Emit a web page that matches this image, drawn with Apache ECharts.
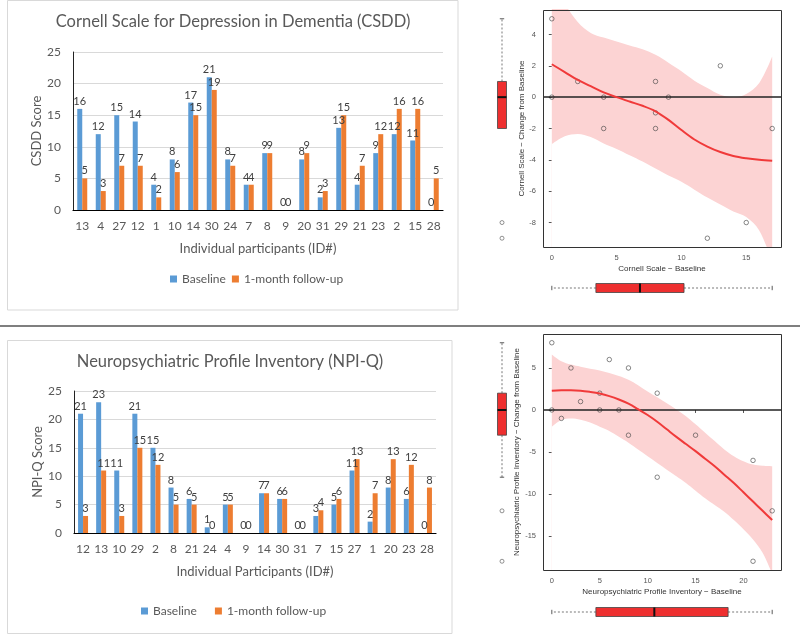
<!DOCTYPE html>
<html>
<head>
<meta charset="utf-8">
<title>CSDD and NPI-Q</title>
<script src="https://cdn.jsdelivr.net/npm/echarts@6/dist/echarts.min.js"></script>
<style>
html, body { margin: 0; padding: 0; background: #fff; }
#chart { width: 800px; height: 634px; }
</style>
</head>
<body>
<div id="chart"></div>
<script>
// --- CSDD bars ---
const csddIds = ['13','4','27','12','1','10','14','30','24','7','8','9','20','31','29','21','23','2','15','28'];
const csddBaseline = [16,12,15,14,4,8,17,21,8,4,9,0,8,2,13,4,9,12,11,0];
const csddFollowUp = [5,3,7,7,2,6,15,19,7,4,9,0,9,3,15,7,12,16,16,5];

// --- NPI-Q bars ---
const npiIds = ['12','13','10','29','2','8','21','24','4','9','14','30','31','7','15','27','1','20','23','28'];
const npiBaseline = [21,23,11,21,15,8,6,1,5,0,7,6,0,3,5,11,2,8,6,0];
const npiFollowUp = [3,11,3,15,12,5,5,0,5,0,7,6,0,4,6,13,7,13,12,8];

// --- Cornell scatter: baseline vs change ---
const csddPoints = [[0,5],[0,0],[2,1],[4,0],[4,-2],[8,1],[8,-1],[8,-2],[9,0],[12,-9],[13,2],[15,-8],[17,-2]];
const csddFitX = [0,1,2,3,4,5,6,7,8,9,10,11,12,13,14,15,16,17];
const csddFit = [2.1,1.6,1.1,0.7,0.3,0,-0.28,-0.55,-0.9,-1.45,-2.1,-2.7,-3.15,-3.5,-3.75,-3.9,-4.0,-4.06];
const csddUpper = [8.0,6.0,4.8,4.1,3.8,3.55,3.3,3.05,2.7,2.2,1.65,1.05,0.58,0.15,0.0,0.2,0.9,2.6];
const csddLower = [-3.0,-2.5,-2.35,-2.55,-2.95,-3.3,-3.7,-4.1,-4.55,-5.0,-5.4,-5.9,-6.4,-6.85,-7.3,-7.65,-8.5,-10.5];
const csddChangeBox = [-2,-2,0,1,5];      // whisker low, Q1, median, Q3, whisker high
const csddChangeOut = [-8,-9];
const csddBaseBox = [0,3.4,6.8,10.2,17];
const csddXTicks = [0,5,10,15];
const csddYTicks = [-8,-6,-4,-2,0,2,4];

// --- NPI-Q scatter: baseline vs change ---
const npiPoints = [[0,8],[0,0],[1,-1],[2,5],[3,1],[5,2],[5,0],[6,6],[7,0],[8,5],[8,-3],[11,2],[11,-8],[15,-3],[21,-6],[21,-18],[23,-12]];
const npiFitX = [0,1,2,3,4,5,6,7,8,9,10,11,12,13,14,15,16,17,18,19,20,21,22,23];
const npiFit = [2.3,2.35,2.35,2.3,2.15,1.95,1.65,1.25,0.75,0.1,-0.6,-1.4,-2.3,-3.2,-4.05,-4.9,-5.8,-6.7,-7.7,-8.7,-9.8,-10.9,-12.0,-13.1];
const npiUpper = [6.6,5.8,5.4,5.15,4.9,4.7,4.4,4.05,3.6,2.95,2.2,1.5,0.8,0.05,-0.75,-1.7,-2.7,-3.7,-4.7,-5.5,-6.1,-6.5,-6.65,-6.7];
const npiLower = [-2.0,-1.2,-1.0,-1.15,-1.5,-2.0,-2.5,-3.2,-3.9,-4.7,-5.5,-6.3,-7.1,-7.9,-8.7,-9.6,-10.5,-11.3,-12.1,-13.1,-14.2,-15.4,-17.0,-19.5];
const npiChangeBox = [-8,-3,0,2,8];
const npiChangeOut = [-12,-18];
const npiBaseBox = [0,4.6,10.7,18.4,23];
const npiXTicks = [0,5,10,15,20];
const npiYTicks = [-15,-10,-5,0,5];

const BLUE = '#5B9BD5', ORANGE = '#ED7D31';
const XL_FONT = 'Lato, "Open Sans", sans-serif';
const R_FONT = '"Liberation Sans", Arial, sans-serif';

const chart = echarts.init(document.getElementById('chart'), null, {renderer: 'canvas'});

function barAxisX(idx, cats, name) {
    return {
        type: 'category', gridIndex: idx, data: cats,
        axisLine: {lineStyle: {color: '#000', width: 1.2}},
        axisTick: {show: false},
        axisLabel: {color: '#595959', fontSize: 12, fontFamily: XL_FONT, margin: 10, interval: 0},
        name: name, nameLocation: 'middle', nameGap: 32,
        nameTextStyle: {color: '#595959', fontSize: 13, fontFamily: XL_FONT}
    };
}
function barAxisY(idx, name) {
    return {
        type: 'value', gridIndex: idx, min: 0, max: 25, interval: 5,
        axisLine: {show: true, lineStyle: {color: '#222'}},
        axisTick: {show: false},
        splitLine: {lineStyle: {color: '#d9d9d9'}},
        axisLabel: {color: '#595959', fontSize: 12, fontFamily: XL_FONT, margin: 12},
        name: name, nameLocation: 'middle', nameGap: 28,
        nameTextStyle: {color: '#595959', fontSize: 13, fontFamily: XL_FONT}
    };
}
function barSeries(name, axis, values, color) {
    return {
        type: 'bar', name: name, xAxisIndex: axis, yAxisIndex: axis, data: values,
        barWidth: 5, barGap: '0%', itemStyle: {color: color},
        label: {show: true, position: 'top', distance: 2, color: '#404040', fontSize: 11, fontFamily: XL_FONT}
    };
}

// R style scatter axes
function rAxisX(idx, min, max, ticks, name) {
    return {
        type: 'value', gridIndex: idx, min: min, max: max,
        axisLine: {show: false}, splitLine: {show: false},
        axisTick: {show: true, length: 3, customValues: ticks, lineStyle: {color: '#555'}},
        axisLabel: {customValues: ticks, color: '#555', fontSize: 7.5, fontFamily: R_FONT, margin: 7},
        name: name, nameLocation: 'middle', nameGap: 18,
        nameTextStyle: {color: '#333', fontSize: 8, fontFamily: R_FONT}
    };
}
function rAxisY(idx, min, max, ticks, name) {
    return {
        type: 'value', gridIndex: idx, min: min, max: max,
        axisLine: {show: false}, splitLine: {show: false},
        axisTick: {show: true, length: 3, customValues: ticks, lineStyle: {color: '#555'}},
        axisLabel: {customValues: ticks, color: '#555', fontSize: 7.5, fontFamily: R_FONT, margin: 7},
        name: name, nameLocation: 'middle', nameGap: 17,
        nameTextStyle: {color: '#333', fontSize: 8, fontFamily: R_FONT}
    };
}
function hiddenAxis(idx, min, max) {
    return {type: 'value', gridIndex: idx, min: min, max: max, show: false};
}

// boxplot drawn R-like: dashed whiskers, staples, red box, thick median
function boxRender(horizontal) {
    return function (params, api) {
        const pos = api.value(0);
        const s = [api.value(1), api.value(2), api.value(3), api.value(4), api.value(5)];
        const pt = v => horizontal ? api.coord([v, pos]) : api.coord([pos, v]);
        const half = 4.5, cap = 2.2;
        const p = s.map(pt);
        const seg = (a, b, style) => ({
            type: 'line', shape: {x1: a[0], y1: a[1], x2: b[0], y2: b[1]}, style: style
        });
        const across = (c, w, style) => ({
            type: 'line',
            shape: horizontal
                ? {x1: c[0], y1: c[1] - w, x2: c[0], y2: c[1] + w}
                : {x1: c[0] - w, y1: c[1], x2: c[0] + w, y2: c[1]},
            style: style
        });
        const dashed = {stroke: '#555', lineWidth: 0.8, lineDash: [2, 2]};
        const solid = {stroke: '#333', lineWidth: 0.8};
        const children = [];
        if (s[4] > s[3]) { children.push(seg(p[3], p[4], dashed), across(p[4], cap, solid)); }
        if (s[0] < s[1]) { children.push(seg(p[1], p[0], dashed), across(p[0], cap, solid)); }
        const rect = horizontal
            ? {x: p[1][0], y: p[1][1] - half, width: p[3][0] - p[1][0], height: half * 2}
            : {x: p[1][0] - half, y: p[3][1], width: half * 2, height: p[1][1] - p[3][1]};
        children.push({type: 'rect', shape: rect, style: {fill: '#ee2f2f', stroke: '#444', lineWidth: 0.8}});
        children.push(across(p[2], half, {stroke: '#111', lineWidth: 2}));
        return {type: 'group', children: children};
    };
}

// confidence band: pink area down from the upper curve, then white area down from the lower curve
function scatterPanel(ax, points, fitX, fit, upper, lower) {
    return [
        {type: 'line', xAxisIndex: ax, yAxisIndex: ax, data: fitX.map((x, i) => [x, upper[i]]),
            symbol: 'none', smooth: 0.35, lineStyle: {opacity: 0},
            areaStyle: {color: '#fcd3d3', opacity: 1, origin: 'start'}, silent: true, z: 1},
        {type: 'line', xAxisIndex: ax, yAxisIndex: ax, data: fitX.map((x, i) => [x, lower[i]]),
            symbol: 'none', smooth: 0.35, lineStyle: {opacity: 0},
            areaStyle: {color: '#ffffff', opacity: 1, origin: 'start'}, silent: true, z: 2},
        {type: 'scatter', xAxisIndex: ax, yAxisIndex: ax, data: points, symbol: 'circle', symbolSize: 4.5,
            itemStyle: {color: 'rgba(0,0,0,0)', borderColor: '#444', borderWidth: 0.8}, z: 4,
            markLine: {silent: true, symbol: 'none', label: {show: false},
                lineStyle: {color: '#222', width: 1.5, type: 'solid'}, data: [{yAxis: 0}]}},
        {type: 'line', xAxisIndex: ax, yAxisIndex: ax, data: fitX.map((x, i) => [x, fit[i]]),
            symbol: 'none', smooth: 0.35, lineStyle: {color: '#f03a3a', width: 2}, z: 5}
    ];
}

function sideBox(ax, stats, outliers) {
    return [
        {type: 'custom', xAxisIndex: ax, yAxisIndex: ax, renderItem: boxRender(false),
            encode: {x: 0, y: [1, 2, 3, 4, 5]}, data: [[0.5].concat(stats)]},
        {type: 'scatter', xAxisIndex: ax, yAxisIndex: ax, data: outliers.map(v => [0.5, v]),
            symbol: 'circle', symbolSize: 4,
            itemStyle: {color: 'rgba(0,0,0,0)', borderColor: '#555', borderWidth: 0.8}}
    ];
}
function bottomBox(ax, stats) {
    return {type: 'custom', xAxisIndex: ax, yAxisIndex: ax, renderItem: boxRender(true),
        encode: {x: [1, 2, 3, 4, 5], y: 0}, data: [[0.5].concat(stats)]};
}

const option = {
    animation: false,
    backgroundColor: '#fff',
    title: [
        {text: 'Cornell Scale for Depression in Dementia (CSDD)', left: 233, top: 13, textAlign: 'center', padding: 0,
            textStyle: {color: '#595959', fontSize: 16.5, fontWeight: 'normal', fontFamily: XL_FONT}},
        {text: 'Neuropsychiatric Profile Inventory (NPI-Q)', left: 230, top: 353, textAlign: 'center', padding: 0,
            textStyle: {color: '#595959', fontSize: 16.5, fontWeight: 'normal', fontFamily: XL_FONT}}
    ],
    legend: [
        {data: ['Baseline', '1-month follow-up'], left: 170, top: 273, padding: 0, itemGap: 6,
            itemWidth: 7, itemHeight: 7, icon: 'rect',
            textStyle: {color: '#595959', fontSize: 12, fontFamily: XL_FONT}},
        {data: ['Baseline', '1-month follow-up'], left: 141, top: 605, padding: 0, itemGap: 18,
            itemWidth: 7, itemHeight: 7, icon: 'rect',
            textStyle: {color: '#595959', fontSize: 12, fontFamily: XL_FONT}}
    ],
    grid: [
        {left: 73, top: 52, width: 370, height: 158},
        {left: 74, top: 391, width: 362, height: 142},
        {left: 543, top: 10, width: 238, height: 237},
        {left: 490, top: 10, width: 24, height: 237},
        {left: 543, top: 276, width: 238, height: 24},
        {left: 543, top: 334, width: 238, height: 236},
        {left: 490, top: 334, width: 24, height: 236},
        {left: 543, top: 600, width: 238, height: 24}
    ],
    xAxis: [
        barAxisX(0, csddIds, 'Individual participants (ID#)'),
        barAxisX(1, npiIds, 'Individual Participants (ID#)'),
        rAxisX(2, -0.68, 17.68, csddXTicks, 'Cornell Scale \u2212 Baseline'),
        hiddenAxis(3, 0, 1),
        hiddenAxis(4, -0.68, 17.68),
        rAxisX(5, -0.92, 23.92, npiXTicks, 'Neuropsychiatric Profile Inventory \u2212 Baseline'),
        hiddenAxis(6, 0, 1),
        hiddenAxis(7, -0.92, 23.92)
    ],
    yAxis: [
        barAxisY(0, 'CSDD Score'),
        barAxisY(1, 'NPI-Q Score'),
        rAxisY(2, -9.56, 5.56, csddYTicks, 'Cornell Scale \u2212 Change from Baseline'),
        hiddenAxis(3, -9.56, 5.56),
        hiddenAxis(4, 0, 1),
        rAxisY(5, -19.04, 9.04, npiYTicks, 'Neuropsychiatric Profile Inventory \u2212 Change from Baseline'),
        hiddenAxis(6, -19.04, 9.04),
        hiddenAxis(7, 0, 1)
    ],
    series: [
        barSeries('Baseline', 0, csddBaseline, BLUE),
        barSeries('1-month follow-up', 0, csddFollowUp, ORANGE),
        barSeries('Baseline', 1, npiBaseline, BLUE),
        barSeries('1-month follow-up', 1, npiFollowUp, ORANGE)
    ]
        .concat(scatterPanel(2, csddPoints, csddFitX, csddFit, csddUpper, csddLower))
        .concat(sideBox(3, csddChangeBox, csddChangeOut))
        .concat([bottomBox(4, csddBaseBox)])
        .concat(scatterPanel(5, npiPoints, npiFitX, npiFit, npiUpper, npiLower))
        .concat(sideBox(6, npiChangeBox, npiChangeOut))
        .concat([bottomBox(7, npiBaseBox)]),
    graphic: [
        // chart frames and the divider
        {type: 'rect', shape: {x: 7.5, y: 0.5, width: 450.5, height: 309.5}, style: {fill: null, stroke: '#d9d9d9', lineWidth: 1}, z: 0},
        {type: 'rect', shape: {x: 7.5, y: 340.5, width: 444.5, height: 293}, style: {fill: null, stroke: '#d9d9d9', lineWidth: 1}, z: 0},
        {type: 'line', shape: {x1: 0, y1: 326, x2: 800, y2: 326}, style: {stroke: '#555', lineWidth: 1.5}, z: 0},
        {type: 'rect', shape: {x: 543.5, y: 10.5, width: 238, height: 237}, style: {fill: null, stroke: '#333', lineWidth: 1}, z: 100},
        {type: 'rect', shape: {x: 543.5, y: 334.5, width: 238, height: 236}, style: {fill: null, stroke: '#333', lineWidth: 1}, z: 100}
    ]
};

chart.setOption(option);
window.addEventListener('resize', () => chart.resize());
</script>
</body>
</html>
